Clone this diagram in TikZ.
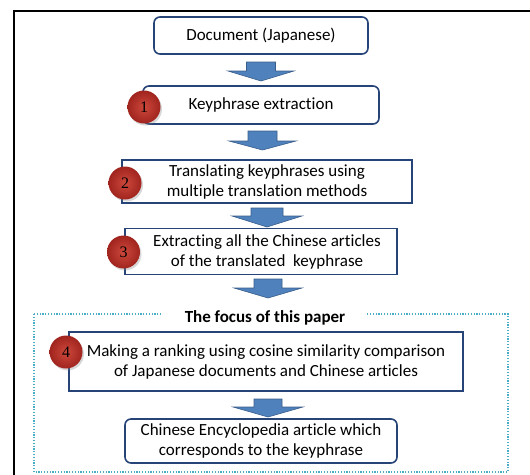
\documentclass[tikz,border=0pt]{standalone}
\usepackage{fontspec}
\setmainfont{Carlito}[Ligatures=NoCommon]
\newfontfamily\numfont{Liberation Serif}
\usetikzlibrary{shadows,calc}

\definecolor{boxline}{RGB}{38,68,120}
\definecolor{arrowfill}{RGB}{79,129,189}
\definecolor{arrowline}{RGB}{56,93,138}
\definecolor{focusline}{RGB}{75,172,198}
\definecolor{ballred}{RGB}{205,72,60}
\definecolor{balldark}{RGB}{160,36,30}

\tikzset{
  stepbox/.style={draw=boxline, line width=1.6pt, fill=white, align=center,
    font=\fontsize{17}{20}\selectfont, inner sep=0pt},
  roundbox/.style={stepbox, rounded corners=6pt},
  numball/.style={circle, minimum size=33pt, inner sep=0pt,
    inner color=ballred, outer color=balldark,
    drop shadow={shadow xshift=1.5pt, shadow yshift=-2pt, opacity=0.3},
    font=\numfont\fontsize{16}{16}\selectfont},
  blockarrow/.style={fill=arrowfill, draw=arrowline, line width=0.6pt},
}

% block arrow: centre x, top y, head start y, bottom y, shaft half width, head half width
\newcommand\downarrowblock[6]{%
  \draw[blockarrow] (#1-#5,#2) -- (#1+#5,#2) -- (#1+#5,#3) -- (#1+#6,#3)
    -- (#1,#4) -- (#1-#6,#3) -- (#1-#5,#3) -- cycle;}

\begin{document}
\begin{tikzpicture}[x=1pt, y=-1pt]
  \useasboundingbox (0,0) rectangle (530,474);

  % outer frame, running off the right and bottom edges
  \draw[line width=2.8pt, black] (560,11) -- (14,11) -- (14,500);

  % focus region
  \draw[focusline, line width=1.5pt, dash pattern=on 1.2pt off 1.6pt]
    (34,314) rectangle (508,472);
  \node[fill=white, font=\bfseries\fontsize{17}{20}\selectfont,
        minimum width=204pt, minimum height=22pt, inner sep=0pt]
    (focus) at (265,318) {The focus of this paper};

  % process boxes
  \node[roundbox, minimum width=214pt, minimum height=37pt] (b1) at (261,35.5)
    {Document (Japanese)};
  \node[roundbox, minimum width=236pt, minimum height=38pt] (b2) at (261,105)
    {Keyphrase extraction};
  \node[stepbox, minimum width=290pt, minimum height=43pt] (b3) at (267,181.5)
    {Translating keyphrases using\\multiple translation methods};
  \node[stepbox, minimum width=272pt, minimum height=46pt] (b4) at (261,251.5)
    {\hspace*{12pt}Extracting all the Chinese articles\\\hspace*{12pt}of the translated\ \ keyphrase};
  \node[stepbox, minimum width=394pt, minimum height=59pt] (b5) at (266,361.5)
    {Making a ranking using cosine similarity comparison\\of Japanese documents and Chinese articles};
  \node[roundbox, minimum width=272pt, minimum height=44pt] (b6) at (261,441)
    {Chinese Encyclopedia article which\\corresponds to the keyphrase};

  % block arrows between the steps
  \downarrowblock{261}{62}{71}{81}{14.5}{33}
  \downarrowblock{262.5}{131}{141}{150}{14.5}{33.5}
  \downarrowblock{267}{208}{216}{227}{16}{35}
  \downarrowblock{268}{279}{288}{298}{14}{34}
  \downarrowblock{268}{399}{407}{417}{14}{35}

  % numbered markers
  \node[numball] (n1) at (144,107) {1};
  \node[numball] (n2) at (125,183) {2};
  \node[numball] (n3) at (123.5,252) {3};
  \node[numball] (n4) at (66,352) {4};
\end{tikzpicture}
\end{document}
